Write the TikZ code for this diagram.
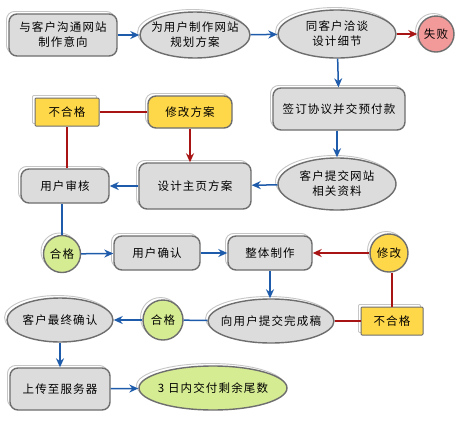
\documentclass[tikz,border=0pt]{standalone}
\usepackage{fontspec}
\setmainfont{Noto Sans CJK SC}[LetterSpace=10]
\usetikzlibrary{shapes.geometric,shadows,arrows.meta}
\definecolor{boxgray}{HTML}{DCDCDC}
\definecolor{bordgray}{HTML}{6E6E6E}
\definecolor{yel}{HTML}{FFD84A}
\definecolor{grn}{HTML}{D6EC92}
\definecolor{pnk}{HTML}{F29A9A}
\definecolor{blu}{HTML}{1E5BAA}
\definecolor{rd}{HTML}{A81414}
\tikzset{
  base/.style={draw=bordgray, line width=1.4pt, align=center, inner sep=1pt,
    font=\fontsize{11.5}{15}\selectfont,
    general shadow={shadow xshift=-2.5pt, shadow yshift=2.5pt, fill=white, draw=gray!45, line width=0.9pt}},
  rbox/.style={base, rectangle, rounded corners=8pt, fill=boxgray},
  ell/.style={base, ellipse, fill=boxgray, inner xsep=-20pt, inner ysep=-6pt},
  ybox/.style={base, rectangle, fill=yel, line width=1pt, rounded corners=1pt},
  yrbox/.style={base, rectangle, rounded corners=8pt, fill=yel},
  circ/.style={base, circle, inner sep=-4pt},
  barrow/.style={draw=blu, line width=1.5pt, -{Stealth[length=9pt,width=8pt]}},
  rarrow/.style={draw=rd, line width=1.5pt, -{Stealth[length=9pt,width=8pt]}},
  bline/.style={draw=blu, line width=1.5pt},
  rline/.style={draw=rd, line width=1.5pt},
}
\begin{document}
\begin{tikzpicture}[x=1pt,y=-1pt]
\useasboundingbox[fill=white] (0,0) rectangle (459,424);
\node[rbox, minimum width=108pt, minimum height=42pt] (n1) at (63,35) {与客户沟通网站\\制作意向};
\node[ell, minimum width=110pt, minimum height=46pt] (n2) at (195,35) {为用户制作网站\\规划方案};
\node[ell, minimum width=118pt, minimum height=48pt] (n3) at (337,34) {同客户洽谈\\设计细节};
\node[circ, fill=pnk, minimum size=36pt] (n4) at (436,34) {失败};
\node[rbox, minimum width=132pt, minimum height=42pt] (n5) at (339,109) {签订协议并交预付款};
\node[ell, minimum width=118pt, minimum height=52pt] (n6) at (337,184) {客户提交网站\\相关资料};
\node[rbox, minimum width=112pt, minimum height=46pt] (n7) at (195,186) {设计主页方案};
\node[rbox, minimum width=88pt, minimum height=34pt] (n8) at (65,186) {用户审核};
\node[ybox, minimum width=64pt, minimum height=28pt] (n9) at (67,112) {不合格};
\node[yrbox, minimum width=84pt, minimum height=32pt] (n10) at (190,112) {修改方案};
\node[circ, fill=grn, minimum size=37pt] (n11) at (62,254) {合格};
\node[rbox, minimum width=86pt, minimum height=34pt] (n12) at (157,253) {用户确认};
\node[rbox, minimum width=84pt, minimum height=34pt] (n13) at (270,253) {整体制作};
\node[circ, fill=yel, minimum size=38pt] (n14) at (389,253) {修改};
\node[ell, minimum width=126pt, minimum height=44pt] (n15) at (271,321) {向用户提交完成稿};
\node[ybox, minimum width=62pt, minimum height=28pt] (n16) at (392,321) {不合格};
\node[circ, fill=grn, minimum size=40pt] (n17) at (163,320) {合格};
\node[ell, minimum width=106pt, minimum height=44pt] (n18) at (60,320) {客户最终确认};
\node[rbox, minimum width=100pt, minimum height=42pt] (n19) at (60,389) {上传至服务器};
\node[ell, fill=grn, minimum width=148pt, minimum height=44pt] (n20) at (213,388) {3 日内交付剩余尾数};

\draw[barrow] (n1) -- (n2);
\draw[barrow] (n2) -- (n3);
\draw[rarrow] (n3) -- (n4);
\draw[barrow] (n3) -- (n5);
\draw[barrow] (n5.south -| n6.north) -- (n6);
\draw[barrow] (n6) -- (n7);
\draw[barrow] (n7) -- (n8);
\draw[rline] (n8.north -| n9.south) -- (n9);
\draw[rline] (n9) -- (n10);
\draw[rarrow] (n10) -- (n10 |- n7.north);
\draw[bline] (n8.south -| n11.north) -- (n11);
\draw[barrow] (n11) -- (n12);
\draw[barrow] (n12) -- (n13);
\draw[rarrow] (n14) -- (n13);
\draw[barrow] (n13) -- (n13 |- n15.north);
\draw[rline] (n15) -- (n16);
\draw[rline] (n16) -- (n16 |- n14.south);
\draw[bline] (n15) -- (n17);
\draw[barrow] (n17) -- (n18);
\draw[barrow] (n18) -- (n18 |- n19.north);
\draw[barrow] (n19) -- (n20);
\end{tikzpicture}
\end{document}
